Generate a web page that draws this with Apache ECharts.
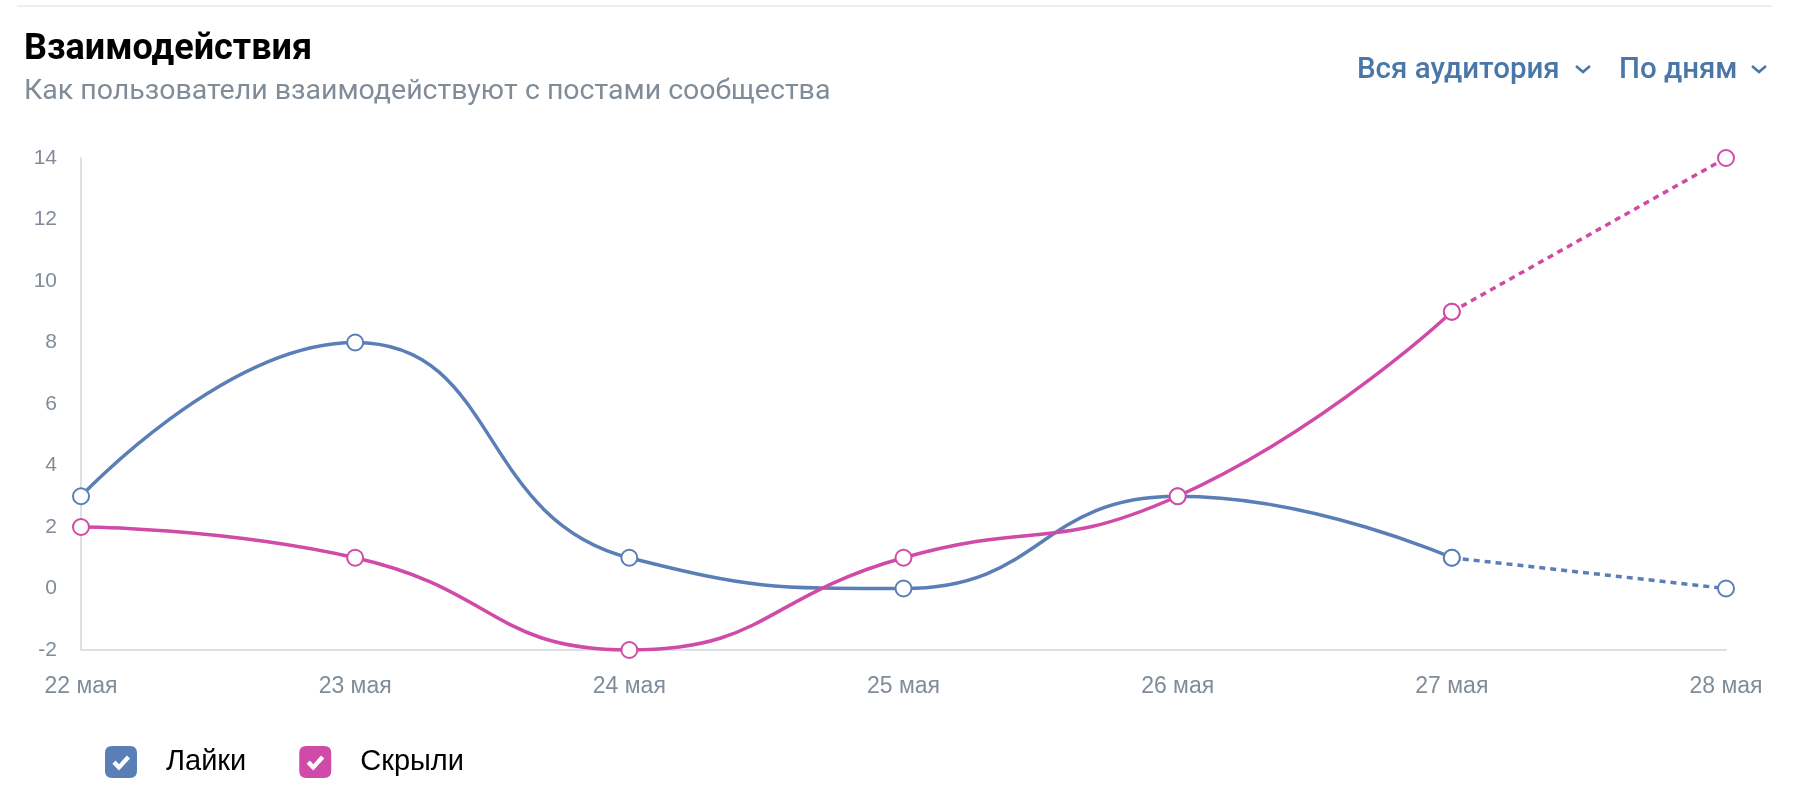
<!DOCTYPE html>
<html lang="ru">
<head>
  <meta charset="UTF-8">
  <title>Взаимодействия</title>
  <style>
    html, body { margin: 0; padding: 0; background: #fff; }
    #main { width: 1804px; height: 800px; }
  </style>
</head>
<body>
<div id="main"></div>
<script src="https://cdn.jsdelivr.net/npm/echarts@6/dist/echarts.min.js"></script>
<script>
  // данные
  const days = ['22 мая', '23 мая', '24 мая', '25 мая', '26 мая', '27 мая', '28 мая'];
  const likes = [3, 8, 1, 0, 3, 1, 0];
  const hidden = [2, 1, -2, 1, 3, 9, 14];
  const forecastFrom = 5; // последний отрезок — пунктир
  const yTicks = { min: -2, max: 14, step: 2 };

  const blue = '#5a7fb7';
  const pink = '#d04ba8';
  const gray = '#818c99';
  const link = '#4a76a8';
  const font = '"Liberation Sans", Helvetica, Arial, sans-serif';

  // галочка внутри квадрата (дырка в пути)
  const checkIcon = 'path://M7 0H25Q32 0 32 7V25Q32 32 25 32H7Q0 32 0 25V7Q0 0 7 0Z' +
    'M10.6 14.6L7.4 17.8L14 24.4L25 12.4L21.8 9.6L14 18.2Z';

  const solidPart = arr => arr.map((v, i) => i <= forecastFrom ? v : null);
  const dashPart = arr => arr.map((v, i) => i >= forecastFrom ? v : null);

  function lineSeries(name, data, color, dashed) {
    return {
      name: name,
      type: 'line',
      data: data,
      smooth: dashed ? false : 0.5,
      symbol: 'emptyCircle',
      symbolSize: 16,
      showAllSymbol: true,
      itemStyle: { color: color, borderWidth: 3.5 },
      lineStyle: { color: color, width: 3.5, type: dashed ? [6, 5] : 'solid' },
      emphasis: { disabled: true },
      z: dashed ? 2 : 3
    };
  }

  const chart = echarts.init(document.getElementById('main'));
  chart.setOption({
    animation: false,
    title: {
      text: 'Взаимодействия',
      subtext: 'Как пользователи взаимодействуют с постами сообщества',
      left: 19,
      top: 26,
      itemGap: 8,
      textStyle: { fontFamily: 'Roboto', fontSize: 36, fontWeight: 'bold', color: '#000', lineHeight: 38 },
      subtextStyle: { fontFamily: 'Roboto', fontSize: 28.5, color: gray, lineHeight: 30 }
    },
    legend: {
      left: 100,
      top: 741,
      itemWidth: 32,
      itemHeight: 32,
      itemGap: 53,
      icon: checkIcon,
      textStyle: { fontFamily: font, fontSize: 29, color: '#000', padding: [0, 0, 0, 24] },
      data: [
        { name: 'Лайки', itemStyle: { color: blue, borderWidth: 0 } },
        { name: 'Скрыли', itemStyle: { color: pink, borderWidth: 0 } }
      ],
      selectedMode: false
    },
    grid: { left: 81, right: 78, top: 158, bottom: 150 },
    xAxis: {
      type: 'category',
      data: days,
      boundaryGap: false,
      axisLine: { onZero: false, lineStyle: { color: '#dce1e6', width: 2 } },
      axisTick: { show: false },
      axisLabel: { color: gray, fontFamily: font, fontSize: 23, margin: 25 }
    },
    yAxis: {
      type: 'value',
      min: yTicks.min,
      max: yTicks.max,
      interval: yTicks.step,
      axisLine: { show: true, lineStyle: { color: '#dce1e6', width: 2 } },
      axisTick: { show: false },
      splitLine: { show: false },
      axisLabel: { color: gray, fontFamily: font, fontSize: 21, margin: 24 }
    },
    series: [
      lineSeries('Лайки', solidPart(likes), blue, false),
      lineSeries('Лайки (прогноз)', dashPart(likes), blue, true),
      lineSeries('Скрыли', solidPart(hidden), pink, false),
      lineSeries('Скрыли (прогноз)', dashPart(hidden), pink, true)
    ],
    graphic: [
      { type: 'line', shape: { x1: 17, y1: 6, x2: 1772, y2: 6 }, style: { stroke: '#e7e8ec', lineWidth: 1.5 } },
      { type: 'text', left: 1357, top: 56, style: { text: 'Вся аудитория', font: '500 29.5px Roboto', fill: link } },
      { type: 'polyline', shape: { points: [[1576, 66], [1583, 72], [1590, 66]] }, style: { stroke: link, lineWidth: 2.5, fill: null } },
      { type: 'text', left: 1619, top: 56, style: { text: 'По дням', font: '500 29.5px Roboto', fill: link } },
      { type: 'polyline', shape: { points: [[1752, 66], [1759, 72], [1766, 66]] }, style: { stroke: link, lineWidth: 2.5, fill: null } }
    ]
  });
</script>
</body>
</html>
